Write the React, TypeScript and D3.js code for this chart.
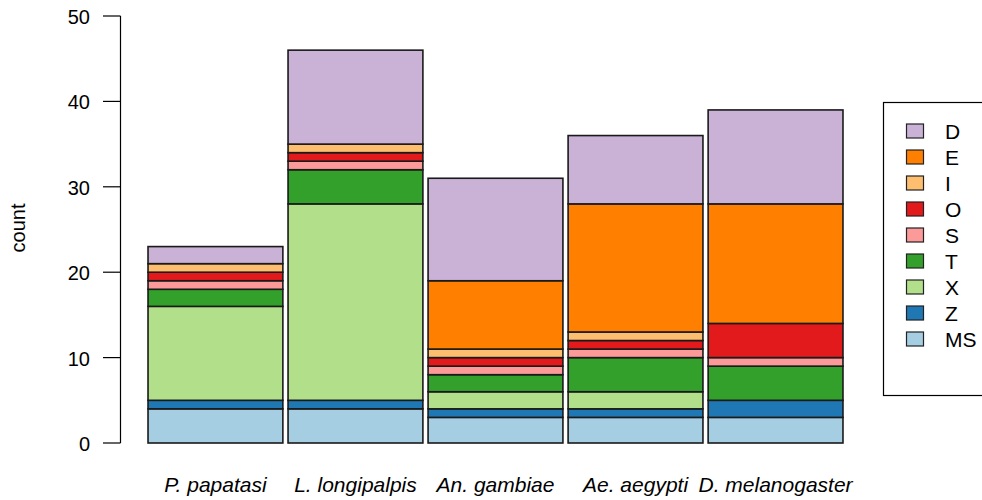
import * as d3 from "d3";

const species = ["P. papatasi", "L. longipalpis", "An. gambiae", "Ae. aegypti", "D. melanogaster"];
// stack order, bottom to top
const classes = ["MS", "Z", "X", "T", "S", "O", "I", "E", "D"];
const colors = ["#A6CEE3", "#1F78B4", "#B2DF8A", "#33A02C", "#FB9A99", "#E31A1C", "#FDBF6F", "#FF7F00", "#CAB2D6"];

const msCounts = [4, 4, 3, 3, 3];
const zCounts = [1, 1, 1, 1, 2];
const xCounts = [11, 23, 2, 2, 0];
const tCounts = [2, 4, 2, 4, 4];
const sCounts = [1, 1, 1, 1, 1];
const oCounts = [1, 1, 1, 1, 4];
const iCounts = [1, 1, 1, 1, 0];
const eCounts = [0, 0, 8, 15, 14];
const dCounts = [2, 11, 12, 8, 11];

const yTicks = [0, 10, 20, 30, 40, 50];

export default function App() {
  const width = 982;
  const height = 500;
  const left = 148;
  const right = 843;
  const top = 16;
  const bottom = 443;

  const series = [msCounts, zCounts, xCounts, tCounts, sCounts, oCounts, iCounts, eCounts, dCounts];
  const rows = species.map((s, i) => {
    const r: Record<string, number | string> = { species: s };
    classes.forEach((c, k) => (r[c] = series[k][i]));
    return r;
  });
  const stacked = d3.stack<any>().keys(classes)(rows);

  const x = d3.scaleBand().domain(species).range([left - 2.5, right + 2.5]).paddingInner(0.037).paddingOuter(0.018);
  const y = d3.scaleLinear().domain([0, 50]).range([bottom, top]);
  const font = "'Liberation Sans', Arial, sans-serif";

  const legendOrder = [...classes].reverse();
  const legendColor = d3.scaleOrdinal<string>().domain(classes).range(colors);

  return (
    <svg width={width} height={height} style={{ position: "absolute", left: 0, top: 0 }} fontFamily={font}>
      {/* y axis */}
      <line x1={120.5} x2={120.5} y1={y(0)} y2={y(50)} stroke="#000" strokeWidth={1.2} />
      {yTicks.map((t) => (
        <g key={t}>
          <line x1={103} x2={120.5} y1={y(t)} y2={y(t)} stroke="#000" strokeWidth={1.2} />
          <text x={90} y={y(t) + 8} textAnchor="end" fontSize={20}>
            {t}
          </text>
        </g>
      ))}
      <text transform={`translate(25,228) rotate(-90)`} textAnchor="middle" fontSize={20}>
        count
      </text>

      {/* bars */}
      {stacked.map((layer, k) => (
        <g key={layer.key}>
          {layer.map((d, i) =>
            d[1] - d[0] > 0 ? (
              <rect
                key={i}
                x={x(species[i])!}
                y={y(d[1])}
                width={x.bandwidth()}
                height={y(d[0]) - y(d[1])}
                fill={colors[k]}
                stroke="#1a1a1a"
                strokeWidth={1.6}
              />
            ) : null
          )}
        </g>
      ))}

      {/* x labels */}
      {species.map((s) => (
        <text key={s} x={x(s)! + x.bandwidth() / 2} y={492} textAnchor="middle" fontSize={21} fontStyle="italic">
          {s}
        </text>
      ))}

      {/* legend */}
      <rect x={883.5} y={102.5} width={110} height={293} fill="none" stroke="#000" strokeWidth={1.2} />
      {legendOrder.map((c, i) => (
        <g key={c}>
          <rect x={906.5} y={124 + i * 26} width={17} height={14} fill={legendColor(c)} stroke="#222" strokeWidth={1.2} />
          <text x={945} y={139 + i * 26} fontSize={21}>
            {c}
          </text>
        </g>
      ))}
    </svg>
  );
}
